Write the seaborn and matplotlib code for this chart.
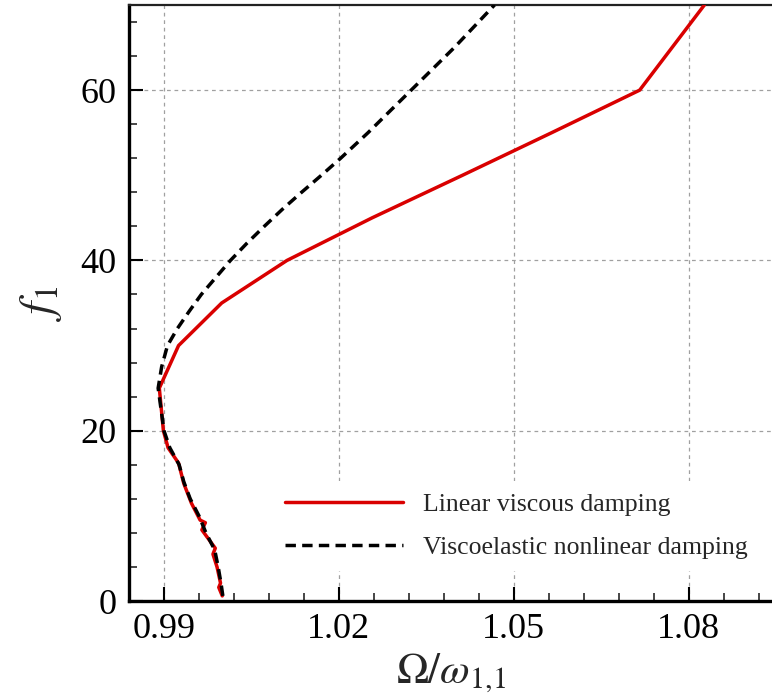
import matplotlib
matplotlib.use("Agg")
import matplotlib.pyplot as plt
import seaborn as sns
import numpy as np
import pandas as pd
from matplotlib.ticker import MultipleLocator

# Data
f_linear = [0.6, 1.6, 2.1, 4.0, 5.5, 6.2, 8.35, 9.2, 9.5, 11.5, 13.8, 16.2, 18.0, 20.0,
            25.0, 30.0, 35.0, 40.0, 45.0, 50.0, 55.0, 60.0, 70.0]
omega_linear = [1.0000, 0.9994, 0.9997, 0.9991, 0.9984, 0.9988, 0.9965, 0.9971, 0.9962,
                0.9947, 0.9934, 0.9925, 0.9907, 0.9899, 0.9892, 0.9925, 0.9999, 1.0111,
                1.0257, 1.0412, 1.0565, 1.0716, 1.0827]

f_visco = [0.6, 2.0, 4.0, 6.0, 8.0, 10.0, 12.0, 14.0, 16.0, 18.0, 20.0, 22.0, 25.0,
           27.5, 30.0, 32.0, 34.0, 36.0, 38.0, 40.0, 42.0, 44.0, 46.0, 48.0, 50.0,
           52.0, 55.0, 60.0, 65.0, 70.0]
omega_visco = [1.0001, 0.9998, 0.9993, 0.9987, 0.9972, 0.9960, 0.9945, 0.9934, 0.9926,
               0.9910, 0.9900, 0.9896, 0.9890, 0.9896, 0.9906, 0.9923, 0.9943, 0.9964,
               0.9989, 1.0014, 1.0042, 1.0072, 1.0103, 1.0136, 1.0170, 1.0203, 1.0250,
               1.0324, 1.0398, 1.0467]

labels = ["Linear viscous damping", "Viscoelastic nonlinear damping"]
x_ticks = [0.99, 1.02, 1.05, 1.08]
y_ticks = [0, 20, 40, 60]

sns.set_theme(style="ticks")
plt.rcParams['font.family'] = ['Liberation Serif', 'DejaVu Serif']
plt.rcParams['mathtext.fontset'] = 'stix'

fig = plt.figure(figsize=(7.72, 6.94), dpi=100)
ax = fig.add_axes([129/772, 1 - 601/694, 1 - 129/772, (601 - 5)/694])

df1 = pd.DataFrame({"omega": omega_linear, "f": f_linear})
df2 = pd.DataFrame({"omega": omega_visco, "f": f_visco})

sns.lineplot(data=df1, x="omega", y="f", sort=False, estimator=None, ax=ax,
             color="#d90000", lw=2.5, label=labels[0], zorder=3)
sns.lineplot(data=df2, x="omega", y="f", sort=False, estimator=None, ax=ax,
             color="black", lw=2.5, ls=(0, (3.0, 1.8)), label=labels[1], zorder=4)

ax.set_xlim(0.984, 1.0943)
ax.set_ylim(0, 70)
ax.set_xticks(x_ticks)
ax.set_xticklabels(["0.99", "1.02", "1.05", "1.08"])
ax.set_yticks(y_ticks)
ax.xaxis.set_minor_locator(MultipleLocator(0.006))
ax.yaxis.set_minor_locator(MultipleLocator(4))

ax.grid(True, which="major", color="#a0a0a0", ls=(0, (3, 3)), lw=0.9)
ax.set_axisbelow(True)

ax.tick_params(which="major", direction="in", length=10, width=1.5, labelsize=26,
               pad=9, colors="black")
ax.tick_params(which="minor", direction="in", length=6, width=1.2)
ax.tick_params(top=False, right=False, which="both")

for s in ["left", "bottom"]:
    ax.spines[s].set_linewidth(2.4)
    ax.spines[s].set_color("black")
ax.spines["top"].set_linewidth(1.6)
ax.spines["top"].set_color("#222222")
ax.spines["right"].set_visible(False)

ax.set_xlabel(r"$\Omega/\omega_{1{,}1}$", fontsize=31, labelpad=4)
ax.set_ylabel(r"$f_1$", fontsize=34, labelpad=12)

leg = ax.legend(loc="lower right", bbox_to_anchor=(1.003, 0.028), frameon=True,
                fontsize=18.5, handlelength=4.6, handletextpad=0.8, labelspacing=0.75,
                borderpad=0.5)
leg.get_frame().set_facecolor("white")
leg.get_frame().set_edgecolor("none")
leg.get_frame().set_alpha(1.0)

fig.savefig("out.png", dpi=100)
